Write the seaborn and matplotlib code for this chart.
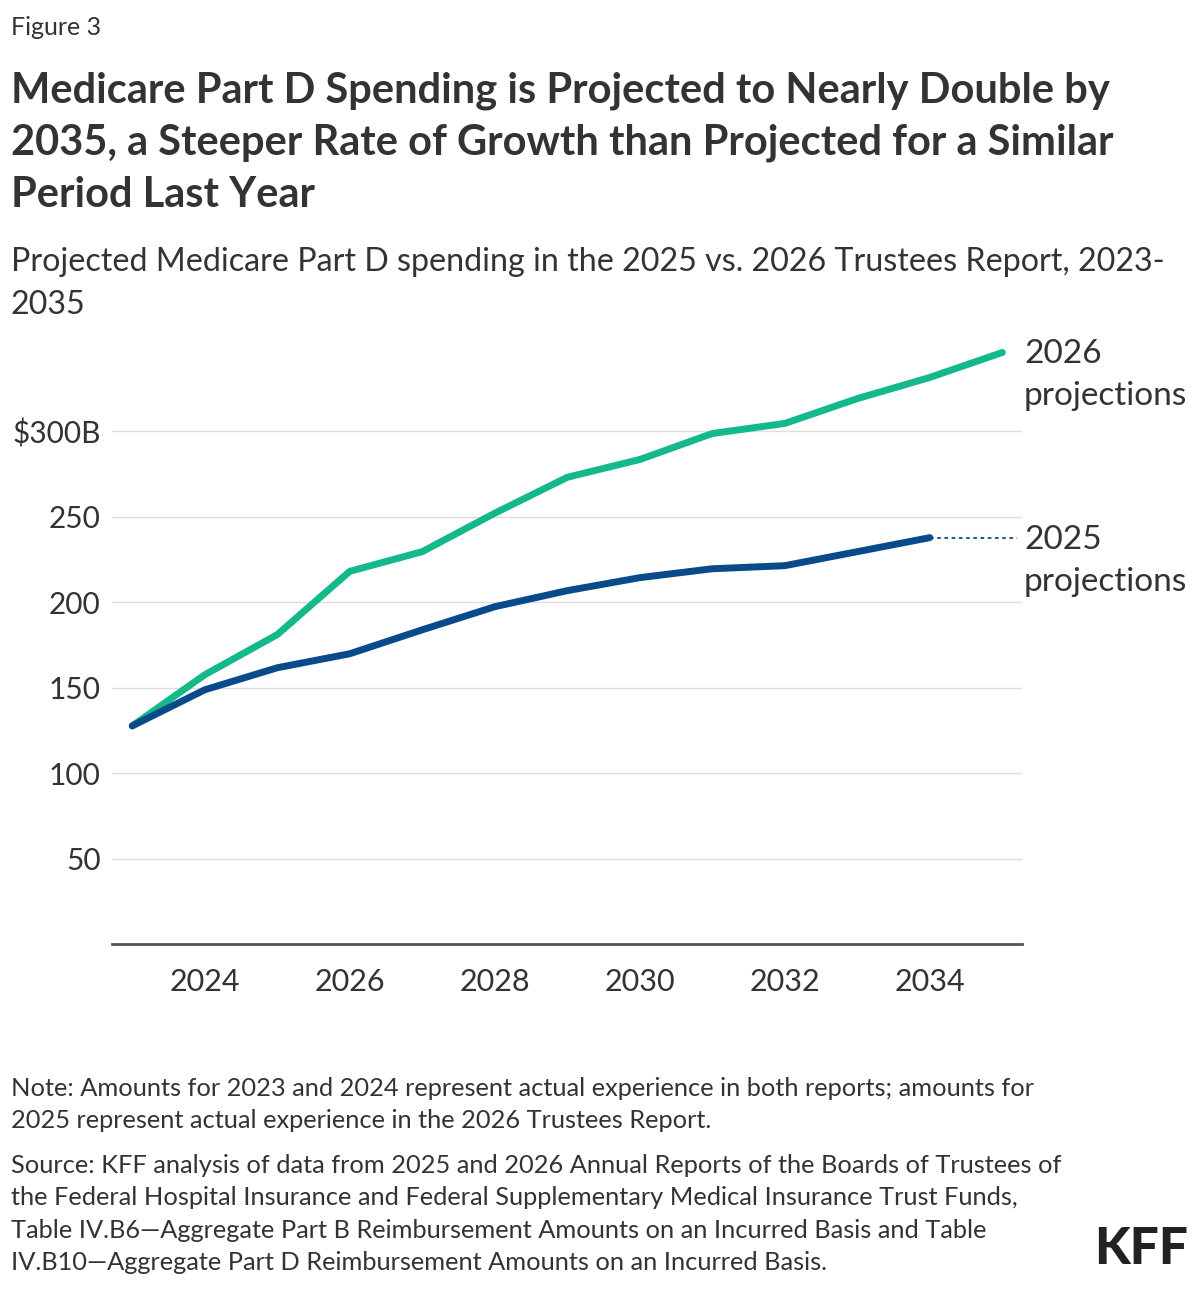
import pandas as pd
import matplotlib.pyplot as plt
import seaborn as sns

# Data ($ billions)
years = list(range(2023, 2036))
proj_2026 = [127.6, 157.5, 181, 218, 229.5, 252, 273, 283.4, 298.6, 304.5, 319, 331.4, 346]
years_2025 = list(range(2023, 2035))
proj_2025 = [127.6, 148.7, 161.6, 169.8, 183.8, 197.3, 206.7, 214.3, 219.5, 221.3, 229.5, 237.7]

y_ticks = [50, 100, 150, 200, 250, 300]
y_labels = ["50", "100", "150", "200", "250", "$300B"]
x_ticks = [2024, 2026, 2028, 2030, 2032, 2034]

df = pd.concat([
    pd.DataFrame({"year": years, "spending": proj_2026, "series": "2026 projections"}),
    pd.DataFrame({"year": years_2025, "spending": proj_2025, "series": "2025 projections"}),
])

GREEN = "#13b98b"
BLUE = "#0a4a8a"
TEXT = "#333333"

sns.set_theme(style="white")
plt.rcParams["font.family"] = ["Lato", "DejaVu Sans"]

fig = plt.figure(figsize=(12, 12.89), dpi=100)
ax = fig.add_axes([0.0933, 0.2676, 0.7583, 0.4709])

sns.lineplot(
    data=df, x="year", y="spending", hue="series",
    palette={"2026 projections": GREEN, "2025 projections": BLUE},
    linewidth=5, legend=False, ax=ax,
)
for line in ax.lines:
    line.set_solid_capstyle("round")
    line.set_clip_on(False)

ax.set_xlim(2022.72, 2035.27)
ax.set_ylim(0, 355)

# gridlines
for v in y_ticks:
    ax.axhline(v, color="#dddddd", linewidth=1, zorder=0)

ax.set_yticks(y_ticks)
ax.set_yticklabels(y_labels)
ax.set_xticks(x_ticks)
ax.tick_params(axis="y", length=0, pad=8, labelsize=21.5, labelcolor=TEXT)
ax.tick_params(axis="x", length=0, pad=17, labelsize=22, labelcolor=TEXT)
ax.set_xlabel("")
ax.set_ylabel("")

for s in ["top", "right", "left"]:
    ax.spines[s].set_visible(False)
ax.spines["bottom"].set_color("#555555")
ax.spines["bottom"].set_linewidth(2)

# dotted connector to 2025 label
ax.plot([2034, 2035.2], [proj_2025[-1], proj_2025[-1]], linestyle=(0, (2, 2)),
        color=BLUE, linewidth=1.3, clip_on=False)

# direct labels at line ends
for val, lab in [(proj_2026[-1], "2026"), (proj_2025[-1], "2025")]:
    ax.annotate(lab, xy=(1.0, val), xycoords=("axes fraction", "data"),
                xytext=(2, -2), textcoords="offset pixels",
                fontsize=24, color=TEXT, va="center", ha="left", annotation_clip=False)
    ax.annotate("projections", xy=(1.0, val), xycoords=("axes fraction", "data"),
                xytext=(2, -44), textcoords="offset pixels",
                fontsize=24, color=TEXT, va="center", ha="left", annotation_clip=False)

# titles
fig.text(0.009, 0.979, "Figure 3", fontsize=18, color=TEXT, va="center")
fig.text(0.009, 0.9445,
         "Medicare Part D Spending is Projected to Nearly Double by\n"
         "2035, a Steeper Rate of Growth than Projected for a Similar\n"
         "Period Last Year",
         fontsize=30, fontweight="bold", color=TEXT, va="top", linespacing=1.445)
fig.text(0.009, 0.8087,
         "Projected Medicare Part D spending in the 2025 vs. 2026 Trustees Report, 2023-\n2035",
         fontsize=23.2, color=TEXT, va="top", linespacing=1.55)

# notes
fig.text(0.009, 0.1648,
         "Note: Amounts for 2023 and 2024 represent actual experience in both reports; amounts for\n"
         "2025 represent actual experience in the 2026 Trustees Report.",
         fontsize=18.3, color=TEXT, va="top", linespacing=1.5)
fig.text(0.009, 0.1048,
         "Source: KFF analysis of data from 2025 and 2026 Annual Reports of the Boards of Trustees of\n"
         "the Federal Hospital Insurance and Federal Supplementary Medical Insurance Trust Funds,\n"
         "Table IV.B6\u2014Aggregate Part B Reimbursement Amounts on an Incurred Basis and Table\n"
         "IV.B10\u2014Aggregate Part D Reimbursement Amounts on an Incurred Basis.",
         fontsize=18.3, color=TEXT, va="top", linespacing=1.5)
fig.text(0.99, 0.0124, "KFF", fontsize=37, fontweight="black", color="#222222",
         ha="right", va="bottom")

fig.savefig("out.png", dpi=100)
